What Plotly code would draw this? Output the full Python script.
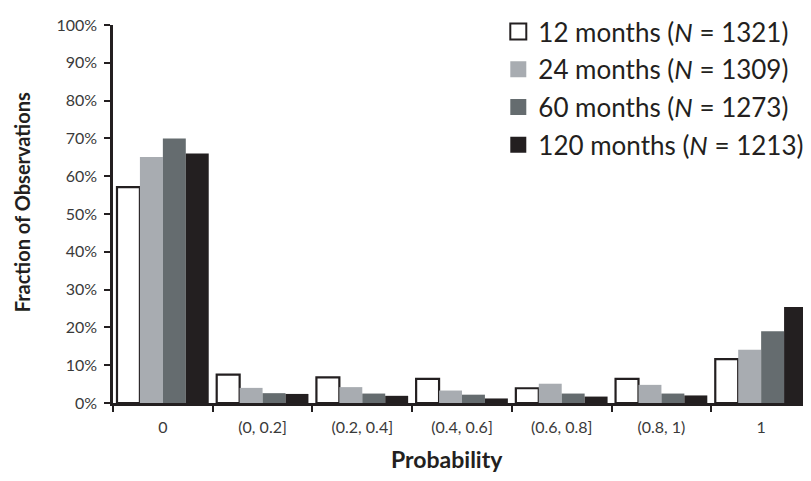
import plotly.graph_objects as go

categories = ["0", "(0, 0.2]", "(0.2, 0.4]", "(0.4, 0.6]", "(0.6, 0.8]", "(0.8, 1)", "1"]
series_names = [
    "12 months (<i>N</i> = 1321)",
    "24 months (<i>N</i> = 1309)",
    "60 months (<i>N</i> = 1273)",
    "120 months (<i>N</i> = 1213)",
]
m12 = [0.571, 0.075, 0.068, 0.064, 0.039, 0.064, 0.116]
m24 = [0.651, 0.040, 0.042, 0.033, 0.051, 0.048, 0.141]
m60 = [0.700, 0.026, 0.025, 0.022, 0.025, 0.025, 0.190]
m120 = [0.660, 0.024, 0.019, 0.012, 0.017, 0.020, 0.254]
y_ticks = [0, 0.1, 0.2, 0.3, 0.4, 0.5, 0.6, 0.7, 0.8, 0.9, 1.0]
x_title = "Probability"
y_title = "Fraction of Observations"

fills = ["#ffffff", "#a8acb1", "#656c6f", "#231f20"]
ink = "#231f20"
label_col = "#3a3a3a"
font = "Lato"

fig = go.Figure()
for i, (name, vals) in enumerate(zip(series_names, [m12, m24, m60, m120])):
    fig.add_trace(go.Bar(
        x=categories, y=vals, name=name,
        marker=dict(color=fills[i],
                    line=dict(color=ink, width=2.2 if i == 0 else 0)),
        showlegend=False,
    ))
    # legend proxy with larger square symbol
    fig.add_trace(go.Scatter(
        x=[None], y=[None], mode="markers", name=name,
        marker=dict(symbol="square", size=16, color=fills[i],
                    line=dict(color=ink, width=2 if i == 0 else 0)),
        legendgroup=f"g{i}",
    ))

# the page body adds an 8px offset, so the figure is sized to the remaining area
fig.update_layout(
    width=803, height=473,
    margin=dict(l=105, r=0, t=8, b=78),
    paper_bgcolor="white", plot_bgcolor="white",
    barmode="group", bargap=0.08, bargroupgap=0,
    font=dict(family=font, color=label_col),
    legend=dict(
        x=0.552, xanchor="left", y=1.046, yanchor="top",
        font=dict(size=26, color=ink, family=font),
        traceorder="grouped", tracegroupgap=1,
        bgcolor="rgba(0,0,0,0)", itemwidth=30,
    ),
    showlegend=True,
    annotations=[
        dict(text=f"<b>{y_title}</b>", xref="paper", yref="paper",
             x=0, y=0.531, xanchor="center", yanchor="middle", xshift=-91,
             textangle=-90, showarrow=False, font=dict(size=20, color=ink, family=font)),
        dict(text=f"<b>{x_title}</b>", xref="paper", yref="paper",
             x=0.479, y=0, xanchor="center", yanchor="middle", yshift=-56,
             showarrow=False, font=dict(size=23, color=ink, family=font)),
    ],
)
fig.update_xaxes(
    type="category", categoryorder="array", categoryarray=categories,
    showline=True, linecolor=ink, linewidth=2.5,
    ticks="outside", tickson="boundaries", ticklen=6, tickwidth=2, tickcolor=ink,
    ticklabelstandoff=8,
    tickfont=dict(size=16, color=label_col),
    showgrid=False, zeroline=False,
)
fig.update_yaxes(
    range=[0, 1.0], tickvals=y_ticks, tickformat=".0%",
    showline=True, linecolor=ink, linewidth=2.5,
    ticks="outside", ticklen=6, tickwidth=2, tickcolor=ink, ticklabelstandoff=4,
    ticklabeloverflow="allow",
    tickfont=dict(size=16, color=label_col),
    showgrid=False, zeroline=False,
)

fig.write_html("out.html")
